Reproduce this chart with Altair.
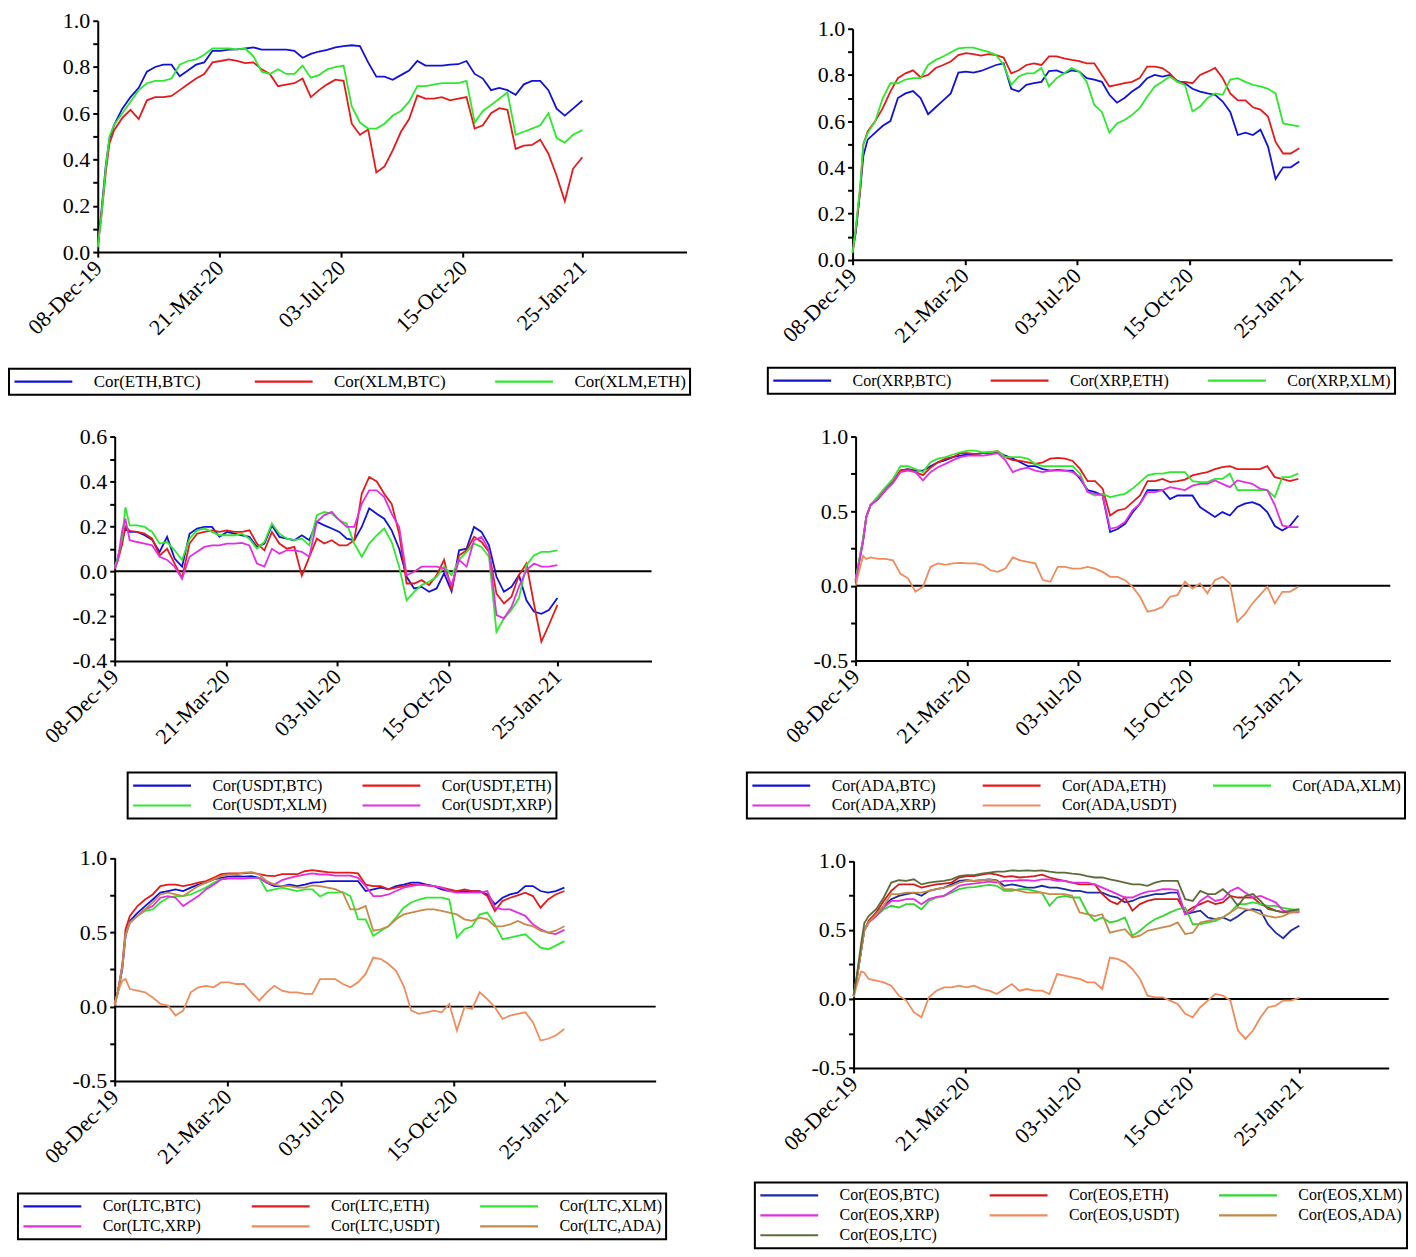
import datetime as dt
import pandas as pd
import altair as alt

FONT = "Liberation Serif"
START = dt.date(2019, 12, 8)
DAYS = [0, 3, 7, 10] + list(range(14, 407, 7)) + [414]
DATES = [(START + dt.timedelta(days=d)).isoformat() for d in DAYS]
TICK_DATES = [dt.date(2019, 12, 8), dt.date(2020, 3, 21), dt.date(2020, 7, 3),
              dt.date(2020, 10, 15), dt.date(2021, 1, 25)]

BLUE, RED, GREEN = "#1212d6", "#e41b1b", "#2ee82e"
MAGENTA, ORANGE, TAN, OLIVE = "#e22fe2", "#f08c5c", "#c68a48", "#5d6b3b"
BLUE6, RED6, GREEN6 = "#1c2ca0", "#d01c1c", "#30d830"

# ---------------- Panel 1 ----------------
P1_NAMES = ["Cor(ETH,BTC)", "Cor(XLM,BTC)", "Cor(XLM,ETH)"]
P1_ETH_BTC = [0.02, 0.17, 0.38, 0.49, 0.55, 0.62, 0.67, 0.71, 0.78, 0.80, 0.81, 0.81,
              0.76, 0.785, 0.81, 0.82, 0.87, 0.87, 0.875, 0.876, 0.88, 0.885,
              0.875, 0.875, 0.875, 0.875, 0.87, 0.84, 0.857, 0.867, 0.874, 0.885,
              0.89, 0.894, 0.89, 0.82, 0.758, 0.758, 0.745, 0.765, 0.785, 0.826,
              0.806, 0.806, 0.806, 0.81, 0.812, 0.826, 0.77, 0.75, 0.70, 0.71,
              0.70, 0.68, 0.725, 0.74, 0.74, 0.70, 0.62, 0.59, 0.62, 0.655]
P1_XLM_BTC = [0.03, 0.15, 0.35, 0.47, 0.527, 0.58, 0.615, 0.575, 0.656, 0.67, 0.67, 0.675,
              0.70, 0.725, 0.75, 0.77, 0.82, 0.826, 0.833, 0.826, 0.817, 0.82,
              0.79, 0.77, 0.717, 0.724, 0.73, 0.75, 0.67, 0.70, 0.725, 0.745,
              0.74, 0.555, 0.507, 0.53, 0.344, 0.37, 0.44, 0.52, 0.575, 0.677,
              0.663, 0.663, 0.67, 0.656, 0.663, 0.67, 0.534, 0.548, 0.60, 0.622,
              0.615, 0.446, 0.46, 0.463, 0.486, 0.425, 0.33, 0.22, 0.36, 0.41]
P1_XLM_ETH = [0.02, 0.15, 0.37, 0.50, 0.55, 0.60, 0.65, 0.70, 0.73, 0.74, 0.74, 0.75,
              0.81, 0.826, 0.833, 0.853, 0.88, 0.88, 0.88, 0.876, 0.88, 0.846,
              0.78, 0.77, 0.79, 0.77, 0.77, 0.806, 0.754, 0.765, 0.79, 0.80,
              0.806, 0.63, 0.56, 0.534, 0.534, 0.555, 0.59, 0.61, 0.65, 0.717,
              0.717, 0.724, 0.73, 0.73, 0.73, 0.74, 0.56, 0.61, 0.636, 0.663,
              0.69, 0.507, 0.52, 0.534, 0.548, 0.60, 0.493, 0.473, 0.507, 0.527]

# ---------------- Panel 2 ----------------
P2_NAMES = ["Cor(XRP,BTC)", "Cor(XRP,ETH)", "Cor(XRP,XLM)"]
P2_XRP_BTC = [0.04, 0.12, 0.30, 0.45, 0.52, 0.55, 0.58, 0.60, 0.70, 0.72, 0.73, 0.70,
              0.63, 0.66, 0.69, 0.72, 0.81, 0.814, 0.81, 0.817, 0.83, 0.843,
              0.85, 0.74, 0.728, 0.757, 0.764, 0.77, 0.817, 0.82, 0.807, 0.82,
              0.814, 0.786, 0.78, 0.77, 0.714, 0.68, 0.70, 0.728, 0.75, 0.786,
              0.80, 0.793, 0.80, 0.774, 0.764, 0.74, 0.728, 0.72, 0.714, 0.685,
              0.64, 0.54, 0.55, 0.54, 0.563, 0.49, 0.35, 0.40, 0.40, 0.425]
P2_XRP_ETH = [0.03, 0.13, 0.30, 0.50, 0.555, 0.60, 0.656, 0.728, 0.786, 0.807, 0.82, 0.79,
              0.80, 0.83, 0.843, 0.858, 0.886, 0.894, 0.89, 0.884, 0.89, 0.886,
              0.875, 0.807, 0.82, 0.843, 0.85, 0.843, 0.88, 0.88, 0.872, 0.865,
              0.86, 0.85, 0.85, 0.80, 0.75, 0.757, 0.764, 0.77, 0.786, 0.836,
              0.836, 0.83, 0.807, 0.77, 0.77, 0.764, 0.80, 0.814, 0.83, 0.786,
              0.72, 0.69, 0.69, 0.66, 0.65, 0.62, 0.51, 0.46, 0.46, 0.483]
P2_XRP_XLM = [0.03, 0.14, 0.32, 0.50, 0.548, 0.60, 0.70, 0.764, 0.764, 0.78, 0.786, 0.786,
              0.843, 0.865, 0.88, 0.898, 0.915, 0.918, 0.918, 0.908, 0.90, 0.886,
              0.843, 0.757, 0.793, 0.807, 0.807, 0.83, 0.75, 0.786, 0.807, 0.83,
              0.814, 0.77, 0.67, 0.64, 0.55, 0.59, 0.605, 0.627, 0.656, 0.706,
              0.75, 0.77, 0.793, 0.77, 0.757, 0.642, 0.663, 0.70, 0.72, 0.714,
              0.78, 0.786, 0.77, 0.757, 0.75, 0.74, 0.72, 0.59, 0.584, 0.577]

# ---------------- Panel 3 ----------------
P3_NAMES = ["Cor(USDT,BTC)", "Cor(USDT,ETH)", "Cor(USDT,XLM)", "Cor(USDT,XRP)"]
P3_USDT_BTC = [0.02, 0.06, 0.14, 0.19, 0.175, 0.175, 0.16, 0.14, 0.086, 0.153, 0.056, 0.02,
               0.167, 0.19, 0.197, 0.197, 0.153, 0.175, 0.167, 0.16, 0.153, 0.108,
               0.123, 0.204, 0.153, 0.145, 0.138, 0.16, 0.138, 0.22, 0.204, 0.19,
               0.175, 0.145, 0.138, 0.197, 0.28, 0.256, 0.234, 0.182, 0.10, -0.025,
               -0.077, -0.07, -0.092, -0.077, -0.01, -0.09, 0.093, 0.10, 0.197, 0.175,
               0.115, -0.025, -0.092, -0.07, -0.018, -0.13, -0.18, -0.19, -0.173, -0.12]
P3_USDT_ETH = [0.01, 0.05, 0.12, 0.20, 0.18, 0.175, 0.167, 0.145, 0.07, 0.10, 0.034, -0.03,
               0.123, 0.167, 0.175, 0.182, 0.175, 0.182, 0.175, 0.175, 0.182, 0.123,
               0.093, 0.175, 0.123, 0.10, 0.108, -0.02, 0.064, 0.145, 0.123, 0.138,
               0.115, 0.115, 0.138, 0.345, 0.42, 0.40, 0.345, 0.30, 0.167, -0.055,
               -0.055, -0.04, -0.062, -0.018, 0.05, -0.085, 0.07, 0.093, 0.153, 0.13,
               0.086, -0.10, -0.144, -0.114, -0.018, 0.034, -0.144, -0.314, -0.24, -0.15]
P3_USDT_XLM = [0.02, 0.06, 0.15, 0.285, 0.204, 0.204, 0.197, 0.175, 0.123, 0.13, 0.093, 0.05,
               0.145, 0.182, 0.19, 0.175, 0.16, 0.16, 0.16, 0.167, 0.145, 0.10,
               0.13, 0.212, 0.167, 0.145, 0.138, 0.145, 0.115, 0.25, 0.264, 0.256,
               0.227, 0.212, 0.123, 0.064, 0.123, 0.16, 0.19, 0.13, 0.02, -0.13,
               -0.092, -0.062, -0.047, -0.025, 0.02, -0.018, 0.05, 0.086, 0.123, 0.108,
               0.064, -0.27, -0.21, -0.173, -0.12, 0.027, 0.07, 0.086, 0.086, 0.093]
P3_USDT_XRP = [0.01, 0.05, 0.18, 0.234, 0.138, 0.13, 0.123, 0.115, 0.064, 0.05, 0.02, -0.033,
               0.064, 0.086, 0.108, 0.115, 0.115, 0.123, 0.123, 0.126, 0.115, 0.034,
               0.02, 0.10, 0.078, 0.093, 0.093, 0.086, 0.064, 0.22, 0.25, 0.264,
               0.227, 0.197, 0.197, 0.30, 0.36, 0.36, 0.33, 0.256, 0.197, -0.018,
               -0.003, 0.02, 0.02, 0.02, 0.012, -0.062, 0.05, 0.02, 0.138, 0.153,
               0.093, -0.196, -0.21, -0.16, -0.07, 0.005, 0.034, 0.02, 0.02, 0.027]

# ---------------- Panel 4 ----------------
P4_NAMES = ["Cor(ADA,BTC)", "Cor(ADA,ETH)", "Cor(ADA,XLM)", "Cor(ADA,XRP)", "Cor(ADA,USDT)"]
P4_ADA_BTC = [0.04, 0.15, 0.30, 0.46, 0.54, 0.58, 0.64, 0.69, 0.77, 0.78, 0.77, 0.77,
              0.80, 0.826, 0.84, 0.86, 0.87, 0.878, 0.88, 0.887, 0.887, 0.893,
              0.87, 0.85, 0.826, 0.80, 0.80, 0.78, 0.77, 0.775, 0.77, 0.77,
              0.715, 0.64, 0.627, 0.604, 0.36, 0.38, 0.415, 0.49, 0.55, 0.64,
              0.64, 0.64, 0.58, 0.604, 0.604, 0.604, 0.527, 0.493, 0.46, 0.493,
              0.47, 0.527, 0.55, 0.56, 0.54, 0.493, 0.40, 0.37, 0.40, 0.47]
P4_ADA_ETH = [0.04, 0.15, 0.30, 0.46, 0.54, 0.59, 0.65, 0.70, 0.77, 0.78, 0.76, 0.74,
              0.79, 0.826, 0.85, 0.86, 0.887, 0.887, 0.88, 0.887, 0.893, 0.90,
              0.86, 0.84, 0.835, 0.826, 0.815, 0.826, 0.85, 0.855, 0.85, 0.835,
              0.78, 0.70, 0.70, 0.65, 0.47, 0.504, 0.515, 0.56, 0.604, 0.70,
              0.70, 0.715, 0.693, 0.70, 0.71, 0.738, 0.75, 0.76, 0.78, 0.793,
              0.80, 0.78, 0.78, 0.78, 0.78, 0.80, 0.727, 0.715, 0.70, 0.715]
P4_ADA_XLM = [0.04, 0.16, 0.32, 0.46, 0.54, 0.60, 0.66, 0.716, 0.80, 0.80, 0.78, 0.76,
              0.826, 0.85, 0.86, 0.878, 0.893, 0.904, 0.904, 0.893, 0.893, 0.90,
              0.86, 0.86, 0.86, 0.85, 0.815, 0.80, 0.80, 0.80, 0.80, 0.80,
              0.75, 0.627, 0.604, 0.615, 0.593, 0.604, 0.615, 0.65, 0.693, 0.738,
              0.75, 0.75, 0.76, 0.76, 0.76, 0.70, 0.693, 0.693, 0.715, 0.715,
              0.75, 0.64, 0.64, 0.64, 0.64, 0.64, 0.593, 0.727, 0.727, 0.75]
P4_ADA_XRP = [0.03, 0.14, 0.30, 0.46, 0.54, 0.58, 0.64, 0.69, 0.76, 0.77, 0.76, 0.705,
              0.76, 0.793, 0.815, 0.84, 0.86, 0.87, 0.87, 0.87, 0.878, 0.887,
              0.84, 0.76, 0.78, 0.79, 0.77, 0.76, 0.77, 0.77, 0.77, 0.76,
              0.727, 0.627, 0.615, 0.604, 0.38, 0.393, 0.427, 0.504, 0.55, 0.627,
              0.627, 0.64, 0.66, 0.65, 0.64, 0.67, 0.682, 0.682, 0.705, 0.682,
              0.66, 0.705, 0.693, 0.682, 0.65, 0.64, 0.54, 0.404, 0.393, 0.393]
P4_ADA_USDT = [0.0, 0.09, 0.20, 0.18, 0.19, 0.18, 0.18, 0.17, 0.08, 0.05, -0.04, -0.007,
               0.127, 0.15, 0.14, 0.15, 0.153, 0.15, 0.15, 0.14, 0.104, 0.093,
               0.115, 0.19, 0.17, 0.16, 0.15, 0.04, 0.027, 0.127, 0.127, 0.115,
               0.115, 0.127, 0.115, 0.093, 0.06, 0.06, 0.038, -0.007, -0.073, -0.173,
               -0.162, -0.14, -0.073, -0.062, 0.027, -0.018, 0.016, -0.05, 0.038, 0.06,
               0.016, -0.24, -0.19, -0.118, -0.062, -0.007, -0.118, -0.04, -0.04, -0.007]

# ---------------- Panel 5 ----------------
P5_NAMES = ["Cor(LTC,BTC)", "Cor(LTC,ETH)", "Cor(LTC,XLM)", "Cor(LTC,XRP)",
            "Cor(LTC,USDT)", "Cor(LTC,ADA)"]
P5_LTC_BTC = [0.02, 0.10, 0.25, 0.48, 0.576, 0.63, 0.676, 0.72, 0.766, 0.777, 0.788, 0.777,
              0.80, 0.82, 0.833, 0.855, 0.866, 0.873, 0.877, 0.873, 0.877, 0.866,
              0.833, 0.81, 0.81, 0.82, 0.81, 0.82, 0.833, 0.837, 0.844, 0.844,
              0.844, 0.844, 0.844, 0.777, 0.788, 0.80, 0.788, 0.81, 0.82, 0.833,
              0.833, 0.82, 0.81, 0.788, 0.777, 0.777, 0.777, 0.777, 0.777, 0.754,
              0.687, 0.732, 0.754, 0.766, 0.81, 0.81, 0.777, 0.766, 0.777, 0.80]
P5_LTC_ETH = [0.02, 0.10, 0.28, 0.52, 0.61, 0.676, 0.72, 0.754, 0.81, 0.82, 0.82, 0.81,
              0.82, 0.833, 0.844, 0.866, 0.89, 0.895, 0.895, 0.895, 0.90, 0.89,
              0.88, 0.877, 0.89, 0.89, 0.89, 0.91, 0.917, 0.91, 0.904, 0.90,
              0.90, 0.90, 0.895, 0.82, 0.81, 0.81, 0.788, 0.80, 0.81, 0.82,
              0.82, 0.815, 0.81, 0.80, 0.788, 0.777, 0.788, 0.777, 0.777, 0.743,
              0.643, 0.71, 0.732, 0.748, 0.766, 0.743, 0.665, 0.72, 0.754, 0.777]
P5_LTC_XLM = [0.02, 0.10, 0.27, 0.48, 0.565, 0.61, 0.643, 0.654, 0.70, 0.732, 0.743, 0.743,
              0.754, 0.777, 0.80, 0.833, 0.855, 0.866, 0.866, 0.866, 0.866, 0.866,
              0.777, 0.788, 0.80, 0.788, 0.777, 0.788, 0.788, 0.74, 0.766, 0.766,
              0.77, 0.743, 0.587, 0.587, 0.475, 0.51, 0.54, 0.598, 0.665, 0.70,
              0.72, 0.732, 0.732, 0.732, 0.72, 0.464, 0.52, 0.54, 0.62, 0.632,
              0.553, 0.453, 0.464, 0.475, 0.486, 0.44, 0.397, 0.386, 0.41, 0.44]
P5_LTC_XRP = [0.02, 0.10, 0.27, 0.48, 0.565, 0.61, 0.654, 0.676, 0.732, 0.743, 0.732, 0.676,
              0.71, 0.743, 0.788, 0.82, 0.855, 0.86, 0.86, 0.86, 0.866, 0.866,
              0.833, 0.82, 0.85, 0.866, 0.877, 0.888, 0.895, 0.888, 0.888, 0.88,
              0.88, 0.88, 0.866, 0.81, 0.743, 0.743, 0.754, 0.777, 0.80, 0.81,
              0.82, 0.815, 0.81, 0.80, 0.777, 0.766, 0.766, 0.766, 0.766, 0.777,
              0.665, 0.654, 0.654, 0.632, 0.61, 0.553, 0.52, 0.498, 0.487, 0.516]
P5_LTC_USDT = [0.007, 0.10, 0.174, 0.185, 0.118, 0.107, 0.096, 0.062, 0.018, 0.007, -0.06, -0.027,
               0.096, 0.13, 0.14, 0.13, 0.163, 0.163, 0.152, 0.152, 0.096, 0.04,
               0.096, 0.14, 0.107, 0.096, 0.096, 0.085, 0.085, 0.185, 0.185, 0.185,
               0.152, 0.13, 0.163, 0.22, 0.33, 0.32, 0.286, 0.24, 0.14, -0.027,
               -0.049, -0.038, -0.027, -0.038, 0.018, -0.16, -0.004, -0.016, 0.096, 0.05,
               -0.004, -0.083, -0.06, -0.049, -0.038, -0.105, -0.228, -0.216, -0.194, -0.15]
P5_LTC_ADA = [0.02, 0.10, 0.27, 0.48, 0.565, 0.61, 0.654, 0.70, 0.754, 0.766, 0.754, 0.743,
              0.777, 0.81, 0.833, 0.855, 0.877, 0.888, 0.888, 0.90, 0.904, 0.888,
              0.844, 0.82, 0.81, 0.81, 0.80, 0.80, 0.815, 0.81, 0.80, 0.79,
              0.766, 0.654, 0.654, 0.676, 0.51, 0.52, 0.54, 0.587, 0.62, 0.632,
              0.643, 0.654, 0.654, 0.643, 0.632, 0.62, 0.587, 0.576, 0.598, 0.587,
              0.54, 0.54, 0.553, 0.576, 0.553, 0.54, 0.51, 0.498, 0.51, 0.54]

# ---------------- Panel 6 ----------------
P6_NAMES = ["Cor(EOS,BTC)", "Cor(EOS,ETH)", "Cor(EOS,XLM)", "Cor(EOS,XRP)",
            "Cor(EOS,USDT)", "Cor(EOS,ADA)", "Cor(EOS,LTC)"]
P6_EOS_BTC = [0.02, 0.15, 0.35, 0.50, 0.554, 0.614, 0.675, 0.723, 0.747, 0.76, 0.77, 0.747,
              0.783, 0.795, 0.807, 0.83, 0.855, 0.86, 0.855, 0.86, 0.867, 0.86,
              0.82, 0.83, 0.82, 0.807, 0.807, 0.82, 0.807, 0.807, 0.795, 0.783,
              0.783, 0.77, 0.77, 0.77, 0.747, 0.735, 0.70, 0.71, 0.735, 0.747,
              0.76, 0.76, 0.77, 0.77, 0.614, 0.627, 0.64, 0.59, 0.578, 0.59,
              0.566, 0.60, 0.64, 0.65, 0.64, 0.54, 0.48, 0.44, 0.494, 0.53]
P6_EOS_ETH = [0.02, 0.15, 0.35, 0.50, 0.566, 0.627, 0.71, 0.783, 0.83, 0.83, 0.83, 0.807,
              0.82, 0.83, 0.836, 0.843, 0.88, 0.89, 0.89, 0.90, 0.91, 0.90,
              0.884, 0.89, 0.88, 0.884, 0.89, 0.90, 0.88, 0.867, 0.855, 0.843,
              0.83, 0.83, 0.83, 0.76, 0.71, 0.687, 0.735, 0.64, 0.687, 0.71,
              0.723, 0.723, 0.723, 0.723, 0.627, 0.663, 0.687, 0.71, 0.687, 0.70,
              0.747, 0.735, 0.735, 0.735, 0.687, 0.663, 0.64, 0.627, 0.627, 0.634]
P6_EOS_XLM = [0.02, 0.15, 0.35, 0.50, 0.554, 0.60, 0.65, 0.675, 0.663, 0.687, 0.687, 0.65,
              0.71, 0.735, 0.747, 0.77, 0.795, 0.807, 0.81, 0.82, 0.826, 0.82,
              0.783, 0.783, 0.795, 0.795, 0.783, 0.77, 0.675, 0.735, 0.747, 0.735,
              0.735, 0.627, 0.566, 0.59, 0.554, 0.566, 0.59, 0.458, 0.494, 0.542,
              0.578, 0.60, 0.627, 0.65, 0.663, 0.542, 0.542, 0.554, 0.566, 0.59,
              0.627, 0.687, 0.687, 0.70, 0.687, 0.675, 0.675, 0.66, 0.65, 0.643]
P6_EOS_XRP = [0.02, 0.15, 0.35, 0.50, 0.554, 0.60, 0.663, 0.71, 0.71, 0.723, 0.723, 0.687,
              0.723, 0.74, 0.747, 0.783, 0.82, 0.83, 0.836, 0.843, 0.85, 0.843,
              0.855, 0.855, 0.86, 0.86, 0.855, 0.867, 0.867, 0.855, 0.855, 0.843,
              0.843, 0.843, 0.83, 0.807, 0.783, 0.76, 0.735, 0.735, 0.76, 0.778,
              0.783, 0.795, 0.795, 0.788, 0.614, 0.64, 0.71, 0.747, 0.71, 0.723,
              0.783, 0.807, 0.77, 0.735, 0.747, 0.723, 0.70, 0.64, 0.627, 0.627]
P6_EOS_USDT = [0.012, 0.10, 0.20, 0.19, 0.145, 0.133, 0.12, 0.096, 0.024, -0.012, -0.096, -0.133,
               0.012, 0.06, 0.084, 0.084, 0.096, 0.084, 0.096, 0.072, 0.06, 0.036,
               0.072, 0.108, 0.06, 0.072, 0.06, 0.06, 0.036, 0.18, 0.169, 0.157,
               0.145, 0.12, 0.12, 0.072, 0.30, 0.29, 0.265, 0.217, 0.145, 0.024,
               0.012, 0.012, -0.012, -0.036, -0.108, -0.133, -0.06, -0.012, 0.036, 0.024,
               -0.012, -0.229, -0.29, -0.229, -0.133, -0.06, -0.048, -0.012, -0.012, 0.007]
P6_EOS_ADA = [0.02, 0.15, 0.35, 0.50, 0.554, 0.614, 0.675, 0.76, 0.76, 0.77, 0.77, 0.77,
              0.783, 0.795, 0.807, 0.82, 0.843, 0.855, 0.855, 0.86, 0.867, 0.855,
              0.795, 0.795, 0.783, 0.77, 0.77, 0.77, 0.76, 0.76, 0.76, 0.747,
              0.627, 0.614, 0.60, 0.614, 0.48, 0.494, 0.506, 0.446, 0.458, 0.494,
              0.506, 0.518, 0.53, 0.554, 0.47, 0.48, 0.554, 0.566, 0.578, 0.59,
              0.627, 0.663, 0.65, 0.64, 0.614, 0.60, 0.59, 0.60, 0.627, 0.634]
P6_EOS_LTC = [0.03, 0.17, 0.40, 0.55, 0.60, 0.65, 0.735, 0.843, 0.86, 0.855, 0.867, 0.83,
              0.843, 0.85, 0.855, 0.867, 0.89, 0.897, 0.897, 0.908, 0.915, 0.922,
              0.922, 0.932, 0.928, 0.932, 0.928, 0.932, 0.922, 0.915, 0.915, 0.908,
              0.903, 0.89, 0.88, 0.88, 0.867, 0.855, 0.843, 0.83, 0.83, 0.82,
              0.843, 0.855, 0.855, 0.855, 0.723, 0.71, 0.783, 0.76, 0.76, 0.795,
              0.747, 0.675, 0.747, 0.76, 0.71, 0.65, 0.64, 0.627, 0.64, 0.65]

H = 1240
W = 1400


def dtime(d):
    return alt.DateTime(year=d.year, month=d.month, date=d.day, utc=True)


def fit(vals):
    vals = list(vals)[:len(DATES)]
    while len(vals) < len(DATES):
        vals.append(vals[-1])
    return vals


def make_panel(names, series, colors, x0, xjan, xend, ybot, ytop, ydom, ystep,
               lab_mult, zero, lx, ly, cols, cpad, lfs):
    ppd = (xjan - x0) / 414.0
    end_days = int(round((xend - x0) / ppd))
    end_date = START + dt.timedelta(days=end_days)
    xr = [x0, x0 + end_days * ppd]
    rows = []
    for nm, vals in zip(names, series):
        for d, v in zip(DATES, fit(vals)):
            rows.append({"date": d, "value": v, "series": nm})
    df = pd.DataFrame(rows)

    def xscale():
        return alt.Scale(type="utc", domain=[dtime(START), dtime(end_date)], range=xr, nice=False)

    def yscale():
        return alt.Scale(domain=ydom, range=[ybot, ytop], nice=False, zero=False)

    n = int(round((ydom[1] - ydom[0]) / ystep))
    yvals = [round(ydom[0] + i * ystep, 4) for i in range(n + 1)]
    xaxis = alt.Axis(orient="bottom", offset=ybot - H, values=[dtime(t) for t in TICK_DATES],
                     labelExpr="utcFormat(datum.value, '%d-%b-%y')", labelAngle=-45,
                     labelAlign="right", labelBaseline="middle", labelPadding=7,
                     labelFlush=False, labelOverlap=False, labelBound=False, labelFont=FONT,
                     labelFontSize=22, labelColor="black", domainColor="black", domainWidth=2,
                     tickColor="black", tickWidth=2, tickSize=5, grid=False, title=None)
    yaxis = alt.Axis(orient="left", offset=-x0, values=yvals,
                     labelExpr=(f"round(datum.value*{lab_mult}) % 2 == 0 ? "
                                "(datum.value < -0.001 ? '-' : '') + format(abs(datum.value), '.1f') : ''"),
                     labelPadding=3, labelFlush=False, labelOverlap=False, labelBound=False,
                     labelFont=FONT, labelFontSize=22, labelColor="black",
                     domainColor="black", domainWidth=2, tickColor="black", tickWidth=2,
                     tickSize=5, grid=False, title=None)
    legend = alt.Legend(title=None, orient="none", legendX=lx, legendY=ly, columns=cols,
                        direction="horizontal", columnPadding=cpad, rowPadding=2,
                        gridAlign="all", symbolType="stroke", symbolSize=3364,
                        symbolStrokeWidth=2.2, clipHeight=18, labelFont=FONT,
                        labelFontSize=lfs, labelColor="black", labelOffset=20,
                        labelLimit=400, padding=4, strokeColor="black")
    lines = alt.Chart(df).mark_line(strokeWidth=1.8).encode(
        x=alt.X("date:T", scale=xscale(), axis=xaxis),
        y=alt.Y("value:Q", scale=yscale(), axis=yaxis),
        color=alt.Color("series:N", scale=alt.Scale(domain=names, range=colors), legend=legend),
    )
    if not zero:
        return [lines]
    zdf = pd.DataFrame({"d0": [START.isoformat()], "d1": [end_date.isoformat()], "z": [0.0]})
    rule = alt.Chart(zdf).mark_rule(color="black", strokeWidth=2).encode(
        x=alt.X("d0:T", scale=xscale(), axis=None),
        x2="d1:T",
        y=alt.Y("z:Q", scale=yscale(), axis=None),
    )
    return [rule, lines]


p1 = make_panel(P1_NAMES, [P1_ETH_BTC, P1_XLM_BTC, P1_XLM_ETH], [BLUE, RED, GREEN],
                89, 575, 680, 243, 11, [0, 1], 0.1, 10, False, 0, 360, 3, 48, 17)
p2 = make_panel(P2_NAMES, [P2_XRP_BTC, P2_XRP_ETH, P2_XRP_XLM], [BLUE, RED, GREEN],
                846, 1294, 1387, 250.7, 19, [0, 1], 0.1, 10, False, 761, 359, 3, 33, 16)
p3 = make_panel(P3_NAMES, [P3_USDT_BTC, P3_USDT_ETH, P3_USDT_XLM, P3_USDT_XRP],
                [BLUE, RED, GREEN, MAGENTA],
                106, 550, 644, 653, 428, [-0.4, 0.6], 0.1, 10, True, 119, 765, 2, 34, 16)
p4 = make_panel(P4_NAMES, [P4_ADA_BTC, P4_ADA_ETH, P4_ADA_XLM, P4_ADA_XRP, P4_ADA_USDT],
                [BLUE, RED, GREEN, MAGENTA, ORANGE],
                849, 1293, 1385, 652.7, 427.7, [-0.5, 1.0], 0.25, 4, True, 740, 765, 3, 34, 16)
p5 = make_panel(P5_NAMES, [P5_LTC_BTC, P5_LTC_ETH, P5_LTC_XLM, P5_LTC_XRP, P5_LTC_USDT, P5_LTC_ADA],
                [BLUE, RED, GREEN, MAGENTA, ORANGE, TAN],
                106, 557, 649, 1074.3, 850.5, [-0.5, 1.0], 0.25, 4, True, 9, 1187, 3, 38, 16)
p6 = make_panel(P6_NAMES, [P6_EOS_BTC, P6_EOS_ETH, P6_EOS_XLM, P6_EOS_XRP, P6_EOS_USDT,
                           P6_EOS_ADA, P6_EOS_LTC],
                [BLUE6, RED6, GREEN6, MAGENTA, ORANGE, TAN, OLIVE],
                847, 1294, 1384, 1061.2, 853.6, [-0.5, 1.0], 0.25, 4, True, 748, 1176, 3, 38, 16)

chart = (
    alt.layer(*(p1 + p2 + p3 + p4 + p5 + p6))
    .resolve_scale(x="independent", y="independent", color="independent")
    .properties(width=W, height=H, padding=0)
    .configure_view(stroke=None)
    .configure_legend(strokeWidth=2)
)

chart.save("out.html", embed_options={"renderer": "svg", "actions": False})
